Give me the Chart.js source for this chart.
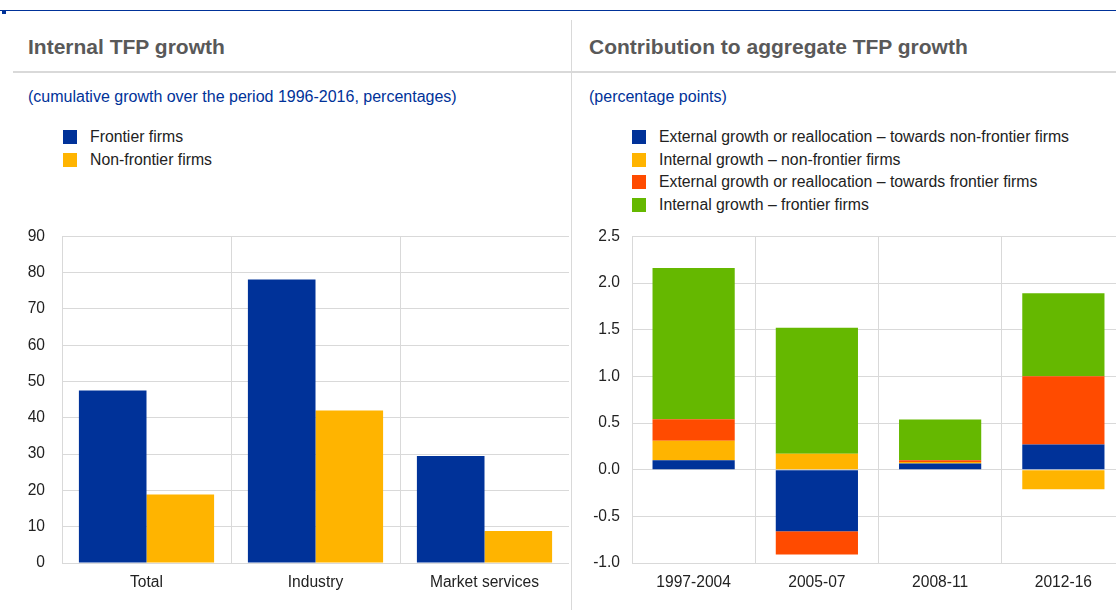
<!DOCTYPE html>
<html>
<head>
<meta charset="utf-8">
<script src="https://cdn.jsdelivr.net/npm/chart.js@4/dist/chart.umd.min.js"></script>
<style>
  body { margin: 0; width: 1116px; height: 610px; overflow: hidden; background: #fff; font-family: "Liberation Sans", Arial, sans-serif; position: relative; }
  .abs { position: absolute; }
  .topline { left: 0; top: 10px; width: 1116px; height: 0; border-top: 1.5px solid #003299; }
  .tick { left: 2px; top: 11px; width: 4px; height: 3px; background: #003299; }
  .hline { left: 13px; top: 71px; width: 1103px; border-top: 2px solid #d9d9d9; }
  .vline { left: 571px; top: 20px; height: 590px; border-left: 1px solid #d9d9d9; }
  .title { top: 35px; font-size: 21px; font-weight: bold; color: #595959; }
  .sub { top: 88px; font-size: 16px; color: #003299; }
  .legend { font-size: 15.8px; color: #222; }
  .legend div { position: relative; height: 22.5px; line-height: 22.5px; white-space: nowrap; padding-left: 27px; }
  .legend span { position: absolute; left: 0; top: 4px; width: 14px; height: 14px; }
</style>
</head>
<body>
<div class="abs topline"></div>
<div class="abs tick"></div>
<div class="abs hline"></div>
<div class="abs vline"></div>
<div class="abs title" style="left:28px">Internal TFP growth</div>
<div class="abs title" style="left:589px">Contribution to aggregate TFP growth</div>
<div class="abs sub" style="left:28px">(cumulative growth over the period 1996-2016, percentages)</div>
<div class="abs sub" style="left:589px">(percentage points)</div>
<div class="abs legend" id="legendLeft" style="left:63px; top:126px"></div>
<div class="abs legend" id="legendRight" style="left:632px; top:126px"></div>
<canvas id="leftChart" class="abs" width="569" height="391" style="left:0; top:210px"></canvas>
<canvas id="rightChart" class="abs" width="551" height="386" style="left:574px; top:215px"></canvas>
<script>
// Left chart data
const sectors = ["Total", "Industry", "Market services"];
const frontier = [47.5, 78.1, 29.5];
const nonFrontier = [18.9, 42.0, 8.8];

// Right chart data
const periods = ["1997-2004", "2005-07", "2008-11", "2012-16"];
const extNonFrontier = [0.10, -0.66, 0.067, 0.27];
const intNonFrontier = [0.21, 0.17, 0.015, -0.21];
const extFrontier = [0.23, -0.25, 0.02, 0.73];
const intFrontier = [1.62, 1.35, 0.435, 0.89];

const BLUE = "#003299", YELLOW = "#ffb400", RED = "#ff4b00", GREEN = "#65b800";
const GRID = "#d9d9d9";
const FONT = { family: "'Liberation Sans', Arial, sans-serif", size: 15.6 };

function buildLegend(id, datasets) {
  const el = document.getElementById(id);
  datasets.forEach(ds => {
    const row = document.createElement("div");
    row.innerHTML = '<span style="background:' + ds.backgroundColor + '"></span>' + ds.label;
    el.appendChild(row);
  });
}

function axes(yMin, yMax, step, yWidth, yPad, fmt) {
  return {
    x: {
      grid: { color: GRID, drawTicks: false, lineWidth: 1 },
      border: { color: GRID },
      ticks: { color: "#222", font: FONT, padding: 10, maxRotation: 0 },
      afterFit: s => { s.height = 38; }
    },
    y: {
      min: yMin, max: yMax,
      grid: { color: GRID, drawTicks: false, lineWidth: 1 },
      border: { color: GRID },
      ticks: { stepSize: step, color: "#222", font: FONT, padding: yPad, callback: fmt },
      afterFit: s => { s.width = yWidth; }
    }
  };
}

const leftSets = [
  { label: "Frontier firms", data: frontier, backgroundColor: BLUE },
  { label: "Non-frontier firms", data: nonFrontier, backgroundColor: YELLOW }
];
buildLegend("legendLeft", leftSets);

new Chart(document.getElementById("leftChart").getContext("2d"), {
  type: "bar",
  data: { labels: sectors, datasets: leftSets.map(d => Object.assign({ categoryPercentage: 0.8, barPercentage: 1.0, borderWidth: 0 }, d)) },
  options: {
    responsive: false,
    animation: false,
    layout: { padding: { top: 10, right: 0, left: 0, bottom: 0 } },
    plugins: { legend: { display: false }, tooltip: { enabled: false } },
    scales: axes(0, 90, 10, 62, 17, v => v)
  }
});

const rightSets = [
  { label: "External growth or reallocation \u2013 towards non-frontier firms", data: extNonFrontier, backgroundColor: BLUE },
  { label: "Internal growth \u2013 non-frontier firms", data: intNonFrontier, backgroundColor: YELLOW },
  { label: "External growth or reallocation \u2013 towards frontier firms", data: extFrontier, backgroundColor: RED },
  { label: "Internal growth \u2013 frontier firms", data: intFrontier, backgroundColor: GREEN }
];
buildLegend("legendRight", rightSets);

const rightScales = axes(-1, 2.5, 0.5, 58, 12, v => Number(v).toFixed(1));
rightScales.x.stacked = true;
rightScales.y.stacked = true;

new Chart(document.getElementById("rightChart").getContext("2d"), {
  type: "bar",
  data: { labels: periods, datasets: rightSets.map(d => Object.assign({ categoryPercentage: 0.667, barPercentage: 1.0, borderWidth: 0 }, d)) },
  options: {
    responsive: false,
    animation: false,
    layout: { padding: { top: 10, right: 0, left: 0, bottom: 0 } },
    plugins: { legend: { display: false }, tooltip: { enabled: false } },
    scales: rightScales
  }
});
</script>
</body>
</html>
